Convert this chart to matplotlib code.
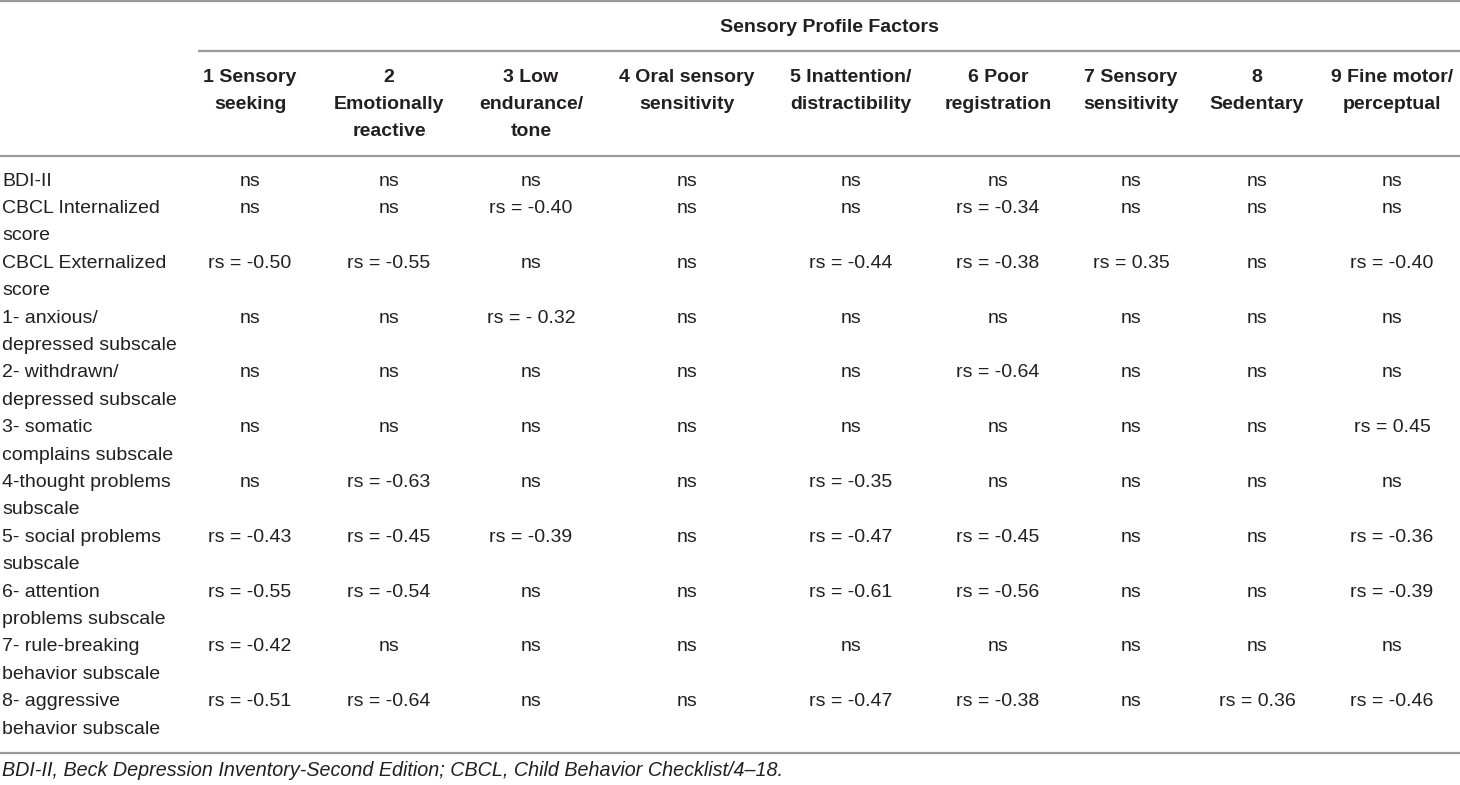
import matplotlib
matplotlib.use("Agg")
import matplotlib.pyplot as plt

plt.rcParams['font.family'] = ['Liberation Sans', 'DejaVu Sans']

group_title = "Sensory Profile Factors"
col_headers = [
    ["1 Sensory", "seeking"],
    ["2", "Emotionally", "reactive"],
    ["3 Low", "endurance/", "tone"],
    ["4 Oral sensory", "sensitivity"],
    ["5 Inattention/", "distractibility"],
    ["6 Poor", "registration"],
    ["7 Sensory", "sensitivity"],
    ["8", "Sedentary"],
    ["9 Fine motor/", "perceptual"],
]
row_labels = [
    ["BDI-II"],
    ["CBCL Internalized", "score"],
    ["CBCL Externalized", "score"],
    ["1- anxious/", "depressed subscale"],
    ["2- withdrawn/", "depressed subscale"],
    ["3- somatic", "complains subscale"],
    ["4-thought problems", "subscale"],
    ["5- social problems", "subscale"],
    ["6- attention", "problems subscale"],
    ["7- rule-breaking", "behavior subscale"],
    ["8- aggressive", "behavior subscale"],
]
cells = [
    ["ns", "ns", "ns", "ns", "ns", "ns", "ns", "ns", "ns"],
    ["ns", "ns", "rs = -0.40", "ns", "ns", "rs = -0.34", "ns", "ns", "ns"],
    ["rs = -0.50", "rs = -0.55", "ns", "ns", "rs = -0.44", "rs = -0.38", "rs = 0.35", "ns", "rs = -0.40"],
    ["ns", "ns", "rs = - 0.32", "ns", "ns", "ns", "ns", "ns", "ns"],
    ["ns", "ns", "ns", "ns", "ns", "rs = -0.64", "ns", "ns", "ns"],
    ["ns", "ns", "ns", "ns", "ns", "ns", "ns", "ns", "rs = 0.45"],
    ["ns", "rs = -0.63", "ns", "ns", "rs = -0.35", "ns", "ns", "ns", "ns"],
    ["rs = -0.43", "rs = -0.45", "rs = -0.39", "ns", "rs = -0.47", "rs = -0.45", "ns", "ns", "rs = -0.36"],
    ["rs = -0.55", "rs = -0.54", "ns", "ns", "rs = -0.61", "rs = -0.56", "ns", "ns", "rs = -0.39"],
    ["rs = -0.42", "ns", "ns", "ns", "ns", "ns", "ns", "ns", "ns"],
    ["rs = -0.51", "rs = -0.64", "ns", "ns", "rs = -0.47", "rs = -0.38", "ns", "rs = 0.36", "rs = -0.46"],
]
footnote = "BDI-II, Beck Depression Inventory-Second Edition; CBCL, Child Behavior Checklist/4\u201318."

W, H = 1460, 785
fig = plt.figure(figsize=(W / 100, H / 100), dpi=100)
ax = fig.add_axes([0, 0, 1, 1])
ax.set_xlim(0, W)
ax.set_ylim(H, 0)
ax.axis('off')

txt_color = '#231f20'
line_color = '#9a9a9a'
fs = 14

col_x = [250, 389, 531, 687, 851, 998, 1131, 1257, 1392]
header_y0 = 77
line_h = 27.3
row_y0 = 181
row_step = 54.8

# rules
ax.plot([0, W], [1, 1], color=line_color, lw=1.6, solid_capstyle='butt')
ax.plot([198, W], [51, 51], color=line_color, lw=1.6, solid_capstyle='butt')
ax.plot([0, W], [155.5, 155.5], color=line_color, lw=1.6, solid_capstyle='butt')
ax.plot([0, W], [753, 753], color=line_color, lw=1.6, solid_capstyle='butt')

ax.text(829, 27, group_title, ha='center', va='center', fontsize=fs,
        fontweight='bold', color=txt_color)

for x, lines in zip(col_x, col_headers):
    for k, s in enumerate(lines):
        ax.text(x, header_y0 + k * line_h, s, ha='center', va='center',
                fontsize=fs, fontweight='bold', color=txt_color)

for i, (lab, vals) in enumerate(zip(row_labels, cells)):
    y = row_y0 + (0 if i == 0 else (i - 1) * row_step + 27.5)
    for k, s in enumerate(lab):
        ax.text(2, y + k * line_h, s, ha='left', va='center', fontsize=fs,
                color=txt_color)
    for x, v in zip(col_x, vals):
        ax.text(x, y, v, ha='center', va='center', fontsize=fs, color=txt_color)

ax.text(2, 771, footnote, ha='left', va='center', fontsize=14.2,
        fontstyle='italic', color=txt_color)

fig.savefig('out.png', dpi=100)
